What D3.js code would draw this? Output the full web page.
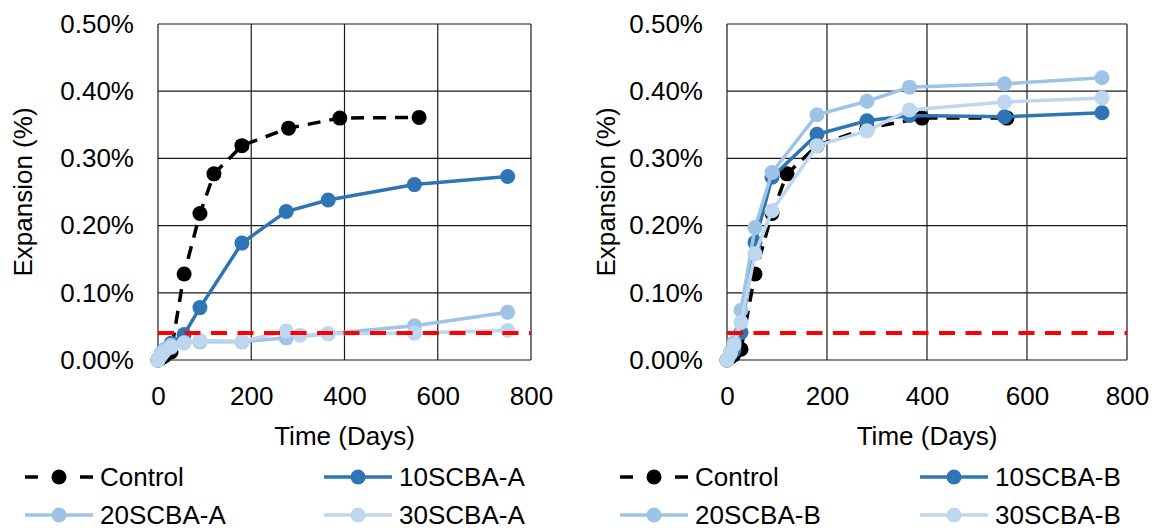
<!DOCTYPE html>
<html>
<head>
<meta charset="utf-8">
<script src="https://cdn.jsdelivr.net/npm/d3@7"></script>
<style>
  body { margin: 0; background: #fff; }
  text { font-family: "Liberation Sans", Arial, sans-serif; fill: #000; }
</style>
</head>
<body>
<div id="chart"></div>
<script>
// axis ticks
var xTicks = [0, 200, 400, 600, 800];
var yTicks = [0, 0.1, 0.2, 0.3, 0.4, 0.5];

// test ages in days
var controlDays = [0, 7, 14, 28, 56, 90, 120, 180, 280, 390, 560];
var daysA = [0, 7, 14, 28, 56, 90, 180, 275, 365, 550, 750];
var days30A = [0, 7, 14, 28, 56, 90, 180, 275, 305, 365, 550, 750];
var daysB = [0, 7, 14, 28, 56, 90, 180, 280, 365, 555, 750];

// expansion (%)
var controlA = [0, 0.003, 0.006, 0.012, 0.128, 0.218, 0.277, 0.319, 0.345, 0.360, 0.361];
var scba10A = [0, 0.008, 0.015, 0.025, 0.038, 0.078, 0.174, 0.221, 0.238, 0.261, 0.273];
var scba20A = [0, 0.010, 0.016, 0.022, 0.026, 0.027, 0.027, 0.033, 0.039, 0.051, 0.071];
var scba30A = [0, 0.007, 0.013, 0.019, 0.025, 0.029, 0.028, 0.043, 0.037, 0.039, 0.040, 0.044];

var controlB = [0, 0.004, 0.008, 0.016, 0.128, 0.218, 0.277, 0.319, 0.345, 0.360, 0.360];
var scba10B = [0, 0.008, 0.015, 0.041, 0.175, 0.272, 0.336, 0.356, 0.364, 0.362, 0.368];
var scba20B = [0, 0.012, 0.026, 0.074, 0.197, 0.279, 0.365, 0.385, 0.406, 0.411, 0.420];
var scba30B = [0, 0.010, 0.022, 0.056, 0.158, 0.222, 0.319, 0.341, 0.372, 0.384, 0.390];

// expansion limit
var limitDays = [0, 800];
var limitValues = [0.04, 0.04];

var namesA = ["Control", "10SCBA-A", "20SCBA-A", "30SCBA-A"];
var namesB = ["Control", "10SCBA-B", "20SCBA-B", "30SCBA-B"];
var colors = ["#000000", "#2E75B6", "#9DC3E6", "#BDD7EE"];

var svg = d3.select("#chart")
  .append("svg")
    .attr("width", 1155)
    .attr("height", 530);

var top0 = 24, plotH = 336;

function zip(days, vals) {
  return days.map(function(d, i) { return {time: d, value: vals[i]}; });
}

function drawPanel(left, plotW, names, data, legend) {
  var g = svg.append("g").attr("transform", "translate(" + left + "," + top0 + ")");

  var x = d3.scaleLinear().domain([0, 800]).range([0, plotW]);
  var y = d3.scaleLinear().domain([0, 0.5]).range([plotH, 0]);

  // grid
  g.selectAll(".vgrid").data(xTicks).enter().append("line")
    .attr("x1", function(d) { return x(d); }).attr("x2", function(d) { return x(d); })
    .attr("y1", 0).attr("y2", plotH)
    .style("stroke", "#1a1a1a").style("stroke-width", 1.2);
  g.selectAll(".hgrid").data(yTicks).enter().append("line")
    .attr("x1", 0).attr("x2", plotW)
    .attr("y1", function(d) { return y(d); }).attr("y2", function(d) { return y(d); })
    .style("stroke", "#1a1a1a").style("stroke-width", 1.2);

  // axes
  var ya = g.append("g")
    .call(d3.axisLeft(y).tickValues(yTicks).tickSize(0).tickPadding(24)
      .tickFormat(function(d) { return d.toFixed(2) + "%"; }));
  ya.select(".domain").remove();
  ya.selectAll("text").style("font-size", "26px").style("font-family", null);

  var xa = g.append("g")
    .attr("transform", "translate(0," + plotH + ")")
    .call(d3.axisBottom(x).tickValues(xTicks).tickSize(0).tickPadding(27));
  xa.select(".domain").remove();
  xa.selectAll("text").style("font-size", "26px").style("font-family", null);

  g.append("text")
    .attr("x", plotW / 2).attr("y", 421)
    .style("text-anchor", "middle").style("font-size", "26px")
    .text("Time (Days)");

  g.append("text")
    .attr("transform", "rotate(-90)")
    .attr("x", -plotH / 2).attr("y", legend.titleX)
    .style("text-anchor", "middle").style("font-size", "26px")
    .text("Expansion (%)");

  var line = d3.line()
    .x(function(d) { return x(d.time); })
    .y(function(d) { return y(d.value); });

  // series
  data.forEach(function(s, i) {
    g.append("path")
      .attr("d", line(s))
      .style("fill", "none")
      .style("stroke", colors[i])
      .style("stroke-width", 3.5)
      .style("stroke-dasharray", i == 0 ? "13,9" : null);
    g.selectAll(".pt" + i).data(s).enter().append("circle")
      .attr("cx", function(d) { return x(d.time); })
      .attr("cy", function(d) { return y(d.value); })
      .attr("r", 7.5)
      .style("fill", colors[i]);
  });

  // limit line
  g.append("path")
    .attr("d", line(zip(limitDays, limitValues)))
    .style("fill", "none")
    .style("stroke", "#FF0000")
    .style("stroke-width", 4)
    .style("stroke-dasharray", "16,10.5");

  // legend
  var rows = [477, 515];
  names.forEach(function(n, i) {
    var lx = legend.cols[i % 2], ly = rows[Math.floor(i / 2)];
    svg.append("line")
      .attr("x1", lx).attr("x2", lx + 68)
      .attr("y1", ly).attr("y2", ly)
      .style("stroke", colors[i])
      .style("stroke-width", 3.5)
      .style("stroke-dasharray", i == 0 ? "13,42" : null);
    svg.append("circle")
      .attr("cx", lx + 34).attr("cy", ly).attr("r", 7.5)
      .style("fill", colors[i]);
    svg.append("text")
      .attr("x", lx + 75).attr("y", ly)
      .attr("dy", "0.35em")
      .style("font-size", "26px")
      .text(n);
  });
}

drawPanel(158, 373, namesA,
  [zip(controlDays, controlA), zip(daysA, scba10A), zip(daysA, scba20A), zip(days30A, scba30A)],
  {cols: [25, 324], titleX: -126});

drawPanel(727, 400, namesB,
  [zip(controlDays, controlB), zip(daysB, scba10B), zip(daysB, scba20B), zip(daysB, scba30B)],
  {cols: [620, 920], titleX: -112});
</script>
</body>
</html>
